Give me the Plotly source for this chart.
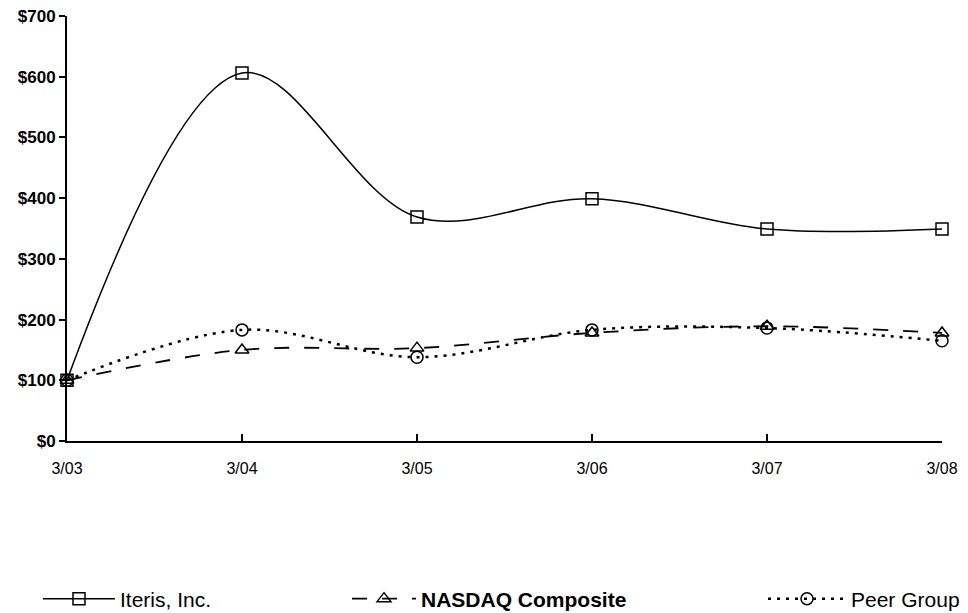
import plotly.graph_objects as go

periods = ["3/03", "3/04", "3/05", "3/06", "3/07", "3/08"]
iteris = [100, 606, 369, 399, 349, 349]
nasdaq = [100, 150, 153, 178, 189, 178]
peer = [100, 183, 138, 183, 186, 165]
y_ticks = [0, 100, 200, 300, 400, 500, 600, 700]
y_labels = ["$" + str(v) for v in y_ticks]

FONT = "Liberation Sans, Arial"
W, H = 968, 613

fig = go.Figure()
fig.add_trace(go.Scatter(
    x=periods, y=peer, name="Peer Group", mode="lines+markers", cliponaxis=False,
    line=dict(color="black", width=2.5, dash="3px,6px", shape="spline", smoothing=1.0),
    marker=dict(symbol="circle-open", size=12, color="black", line=dict(width=1.5)),
    legend="legend3"))
fig.add_trace(go.Scatter(
    x=periods, y=nasdaq, name="<b>NASDAQ Composite</b>", mode="lines+markers", cliponaxis=False,
    line=dict(color="black", width=1.8, dash="longdash", shape="spline", smoothing=1.0),
    marker=dict(symbol="triangle-up-open", size=12, color="black", line=dict(width=1.5)),
    legend="legend2"))
fig.add_trace(go.Scatter(
    x=periods, y=iteris, name="Iteris, Inc.", mode="lines+markers", cliponaxis=False,
    line=dict(color="black", width=1.5, shape="spline", smoothing=1.0),
    marker=dict(symbol="square-open", size=12, color="black", line=dict(width=1.5)),
    legend="legend"))

leg_y = (H - 599) / H
leg_common = dict(orientation="h", xref="container", yref="container",
                  yanchor="middle", xanchor="left", bgcolor="rgba(0,0,0,0)",
                  borderwidth=0,
                  y=leg_y, font=dict(family=FONT, size=21, color="black"))

fig.update_layout(
    width=W, height=H,
    margin=dict(l=67, r=26, t=16, b=172, autoexpand=False),
    paper_bgcolor="white", plot_bgcolor="white",
    font=dict(family=FONT, color="black"),
    showlegend=True,
    legend=dict(x=38 / W, itemwidth=72, **leg_common),
    legend2=dict(x=347 / W, itemwidth=64, **leg_common),
    legend3=dict(x=763 / W, itemwidth=78, **leg_common),
    xaxis=dict(
        type="category", range=[0, 5], showgrid=False, zeroline=False,
        showline=True, linecolor="black", linewidth=2,
        ticks="inside", ticklen=7, tickwidth=1.5, tickcolor="black",
        ticklabelstandoff=12,
        tickfont=dict(family=FONT, size=16, color="black"),
    ),
    yaxis=dict(
        range=[0, 700], tickvals=y_ticks, ticktext=["<b>" + t + "</b>" for t in y_labels],
        showgrid=False, zeroline=False,
        showline=True, linecolor="black", linewidth=2,
        ticks="outside", ticklen=6, tickwidth=1.5, tickcolor="black",
        ticklabeloverflow="allow",
        tickfont=dict(family=FONT, size=17, color="black"),
    ),
)

fig.write_html("out.html", config={"displayModeBar": False},
               post_script="document.body.style.margin='0px';")
